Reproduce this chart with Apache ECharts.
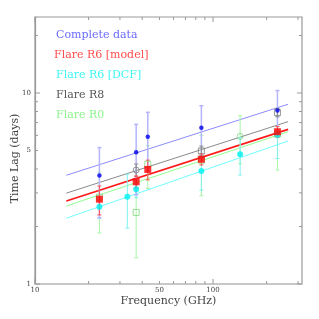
<!DOCTYPE html>
<html><head><meta charset="utf-8">
<script src="https://cdn.jsdelivr.net/npm/echarts@6/dist/echarts.min.js"></script>
<style>html,body{margin:0;padding:0;background:#fff}#c{width:319px;height:319px}</style>
</head><body><div id="c"></div>
<script>
// ---- data ----
const legendNames = ['Complete data', 'Flare R6 [model]', 'Flare R6 [DCF]', 'Flare R8', 'Flare R0'];

const blueFreq = [23, 37, 43, 86, 230];
const blueLag  = [3.7, 4.89, 5.9, 6.58, 8.1];
const blueErr  = [1.48, 1.96, 2.02, 2.0, 2.2];

const redFreq = [23, 37, 43, 86, 230];
const redLag  = [2.78, 3.43, 3.98, 4.5, 6.27];
const redErr  = [0.48, 0.25, 0.47, 0.3, 0.4];

const cyanFreq = [23, 33, 37, 86, 142, 230];
const cyanLag  = [2.54, 2.86, 3.13, 3.9, 4.78, 6.04];
const cyanErr  = [0.33, 0.9, 0.3, 0.8, 1.06, 1.5];

const grayFreq = [37, 86, 230];
const grayLag  = [3.95, 4.97, 7.9];
const grayErr  = [0.3, 0.3, 0.4];
const grayShape = ['circle', 'rect', 'rect'];

const greenFreq = [23, 37, 43, 86, 142, 230];
const greenLag  = [2.85, 2.37, 4.24, 4.45, 5.93, 6.1];
const greenErr  = [1.0, 1.0, 1.07, 1.55, 1.67, 2.15];
const greenShape = ['rect', 'rect', 'rect', 'rect', 'circle', 'rect'];

// power-law fits, evaluated at the ends of the drawn segments
const fitFreq  = [15, 264];
const blueFit  = [3.71, 8.73];
const redFit   = [2.72, 6.45];
const cyanFit  = [2.21, 5.61];
const grayFit  = [2.99, 7.08];
const greenFit = [2.56, 6.27];

// axis ticks and labels
const xMajorTicks = [10, 100];
const xMinorTicks = [20, 30, 40, 50, 60, 70, 80, 90, 200, 300];
const xTickLabels = [10, 50, 100];
const yMajorTicks = [1, 10];
const yMinorTicks = [2, 3, 4, 5, 6, 7, 8, 9, 20];
const yTickLabels = [1, 5, 10];

const X_MIN = 10, X_MAX = 316, Y_MIN = 1, Y_MAX = 25;
const AX = '#999';
const FONT = '"DejaVu Serif", "Liberation Serif", serif';

// ---- helpers ----
function pairs(xs, ys) { return xs.map((x, i) => [x, ys[i]]); }
function errData(xs, ys, es) { return xs.map((x, i) => [x, ys[i] - es[i], ys[i] + es[i]]); }

function errSeries(xs, ys, es, color, w) {
  return {
    type: 'custom', coordinateSystem: 'cartesian2d', z: 3, silent: true,
    data: errData(xs, ys, es), encode: { x: 0, y: [1, 2] },
    renderItem: function (params, api) {
      const x = api.value(0);
      const p1 = api.coord([x, api.value(1)]);
      const p2 = api.coord([x, api.value(2)]);
      const c = 2, st = { stroke: color, lineWidth: w };
      return { type: 'group', children: [
        { type: 'line', shape: { x1: p1[0], y1: p1[1], x2: p2[0], y2: p2[1] }, style: st },
        { type: 'line', shape: { x1: p1[0] - c, y1: p1[1], x2: p1[0] + c, y2: p1[1] }, style: st },
        { type: 'line', shape: { x1: p2[0] - c, y1: p2[1], x2: p2[0] + c, y2: p2[1] }, style: st }
      ] };
    }
  };
}

function fitSeries(ys, color, w) {
  return { type: 'line', data: pairs(fitFreq, ys), showSymbol: false, symbol: 'none', z: 2, silent: true,
    lineStyle: { color: color, width: w }, animation: false };
}

function scatterSeries(xs, ys, size, color, shapes, hollow) {
  return {
    type: 'scatter', z: 5, silent: true,
    data: xs.map((x, i) => ({ value: [x, ys[i]], symbol: shapes ? shapes[i] : undefined })),
    symbol: 'circle', symbolSize: size,
    itemStyle: hollow ? { color: 'rgba(255,255,255,0)', borderColor: color, borderWidth: 1 } : { color: color }
  };
}

function tickSeries(axis) {
  const data = [];
  if (axis === 'x') {
    xMajorTicks.forEach(v => data.push([v, Y_MIN, 1]));
    xMinorTicks.forEach(v => data.push([v, Y_MIN, 0]));
  } else {
    yMajorTicks.forEach(v => data.push([X_MIN, v, 1]));
    yMinorTicks.forEach(v => data.push([X_MIN, v, 0]));
  }
  return {
    type: 'custom', coordinateSystem: 'cartesian2d', z: 6, silent: true, clip: false,
    data: data, encode: { x: 0, y: 1 },
    renderItem: function (params, api) {
      const cs = params.coordSys;
      const p = api.coord([api.value(0), api.value(1)]);
      const L = api.value(2) ? 5 : 3;
      const st = { stroke: AX, lineWidth: 1 };
      if (axis === 'x') {
        const b = cs.y + cs.height, t = cs.y;
        return { type: 'group', children: [
          { type: 'line', shape: { x1: p[0], y1: b, x2: p[0], y2: b - L }, style: st },
          { type: 'line', shape: { x1: p[0], y1: t, x2: p[0], y2: t + L }, style: st }
        ] };
      } else {
        const l = cs.x, r = cs.x + cs.width;
        return { type: 'group', children: [
          { type: 'line', shape: { x1: l, y1: p[1], x2: l + L, y2: p[1] }, style: st },
          { type: 'line', shape: { x1: r, y1: p[1], x2: r - L, y2: p[1] }, style: st }
        ] };
      }
    }
  };
}

function labelSeries(axis) {
  const data = axis === 'x' ? xTickLabels.map(v => [v, Y_MIN]) : yTickLabels.map(v => [X_MIN, v]);
  return {
    type: 'custom', coordinateSystem: 'cartesian2d', z: 6, silent: true, clip: false,
    data: data, encode: { x: 0, y: 1 },
    renderItem: function (params, api) {
      const cs = params.coordSys;
      const v = axis === 'x' ? api.value(0) : api.value(1);
      const p = api.coord([api.value(0), api.value(1)]);
      const st = { text: String(v), fill: '#444', font: '7px ' + FONT };
      if (axis === 'x') {
        return { type: 'text', x: p[0], y: cs.y + cs.height + 3,
          style: Object.assign(st, { align: 'center', verticalAlign: 'top' }) };
      }
      return { type: 'text', x: cs.x - 4, y: p[1],
        style: Object.assign(st, { align: 'right', verticalAlign: 'middle' }) };
    }
  };
}

const legendColors = ['#6b6bff', '#ff4d4d', '#3ff5f5', '#555555', '#8cf58c'];

const chart = echarts.init(document.getElementById('c'), null, { renderer: 'canvas' });
chart.setOption({
  animation: false,
  backgroundColor: '#fff',
  grid: { left: 35, right: 17, top: 17, bottom: 35, show: true, borderColor: AX, borderWidth: 1.2, backgroundColor: 'transparent' },
  xAxis: {
    type: 'log', logBase: 10, min: X_MIN, max: X_MAX,
    name: 'Frequency (GHz)', nameLocation: 'middle', nameGap: 12,
    nameTextStyle: { fontFamily: FONT, fontSize: 11, color: '#444' },
    axisLine: { show: true, lineStyle: { color: '#c8c8c8', width: 2 } },
    axisTick: { show: false }, axisLabel: { show: false }, splitLine: { show: false }
  },
  yAxis: {
    type: 'log', logBase: 10, min: Y_MIN, max: Y_MAX,
    name: 'Time Lag (days)', nameLocation: 'middle', nameGap: 14,
    nameTextStyle: { fontFamily: FONT, fontSize: 11, color: '#444', padding: [0, 16, 0, 0] },
    axisLine: { show: true, lineStyle: { color: AX, width: 1.2 } },
    axisTick: { show: false }, axisLabel: { show: false }, splitLine: { show: false }
  },
  graphic: legendNames.map((n, i) => ({
    type: 'text', left: i === 1 ? 54 : 56, top: 30 + 20 * i, silent: true,
    style: { text: n, fill: legendColors[i], font: '11px ' + FONT }
  })),
  series: [
    fitSeries(cyanFit, '#70ffff', 1),
    fitSeries(greenFit, '#90ff90', 1),
    fitSeries(grayFit, '#8a8a8a', 1),
    fitSeries(blueFit, '#8c8cff', 1),
    fitSeries(redFit, '#ff1a1a', 1.8),
    errSeries(greenFreq, greenLag, greenErr, '#a8f5a8', 1),
    errSeries(cyanFreq, cyanLag, cyanErr, '#80f0f0', 1),
    errSeries(blueFreq, blueLag, blueErr, '#b4b4ff', 1.5),
    errSeries(grayFreq, grayLag, grayErr, '#8a8a8a', 1),
    errSeries(redFreq, redLag, redErr, '#ff5050', 1),
    scatterSeries(greenFreq, greenLag, 6, '#7fd67f', greenShape, true),
    scatterSeries(grayFreq, grayLag, 6, '#808080', grayShape, true),
    scatterSeries(cyanFreq, cyanLag, 6, '#00f0f0', null, false),
    scatterSeries(blueFreq, blueLag, 4.5, '#0000ee', null, false),
    scatterSeries(redFreq, redLag, 7, '#ff0000', ['rect','rect','rect','rect','rect'], false),
    tickSeries('x'), tickSeries('y'), labelSeries('x'), labelSeries('y')
  ]
});
</script></body></html>
